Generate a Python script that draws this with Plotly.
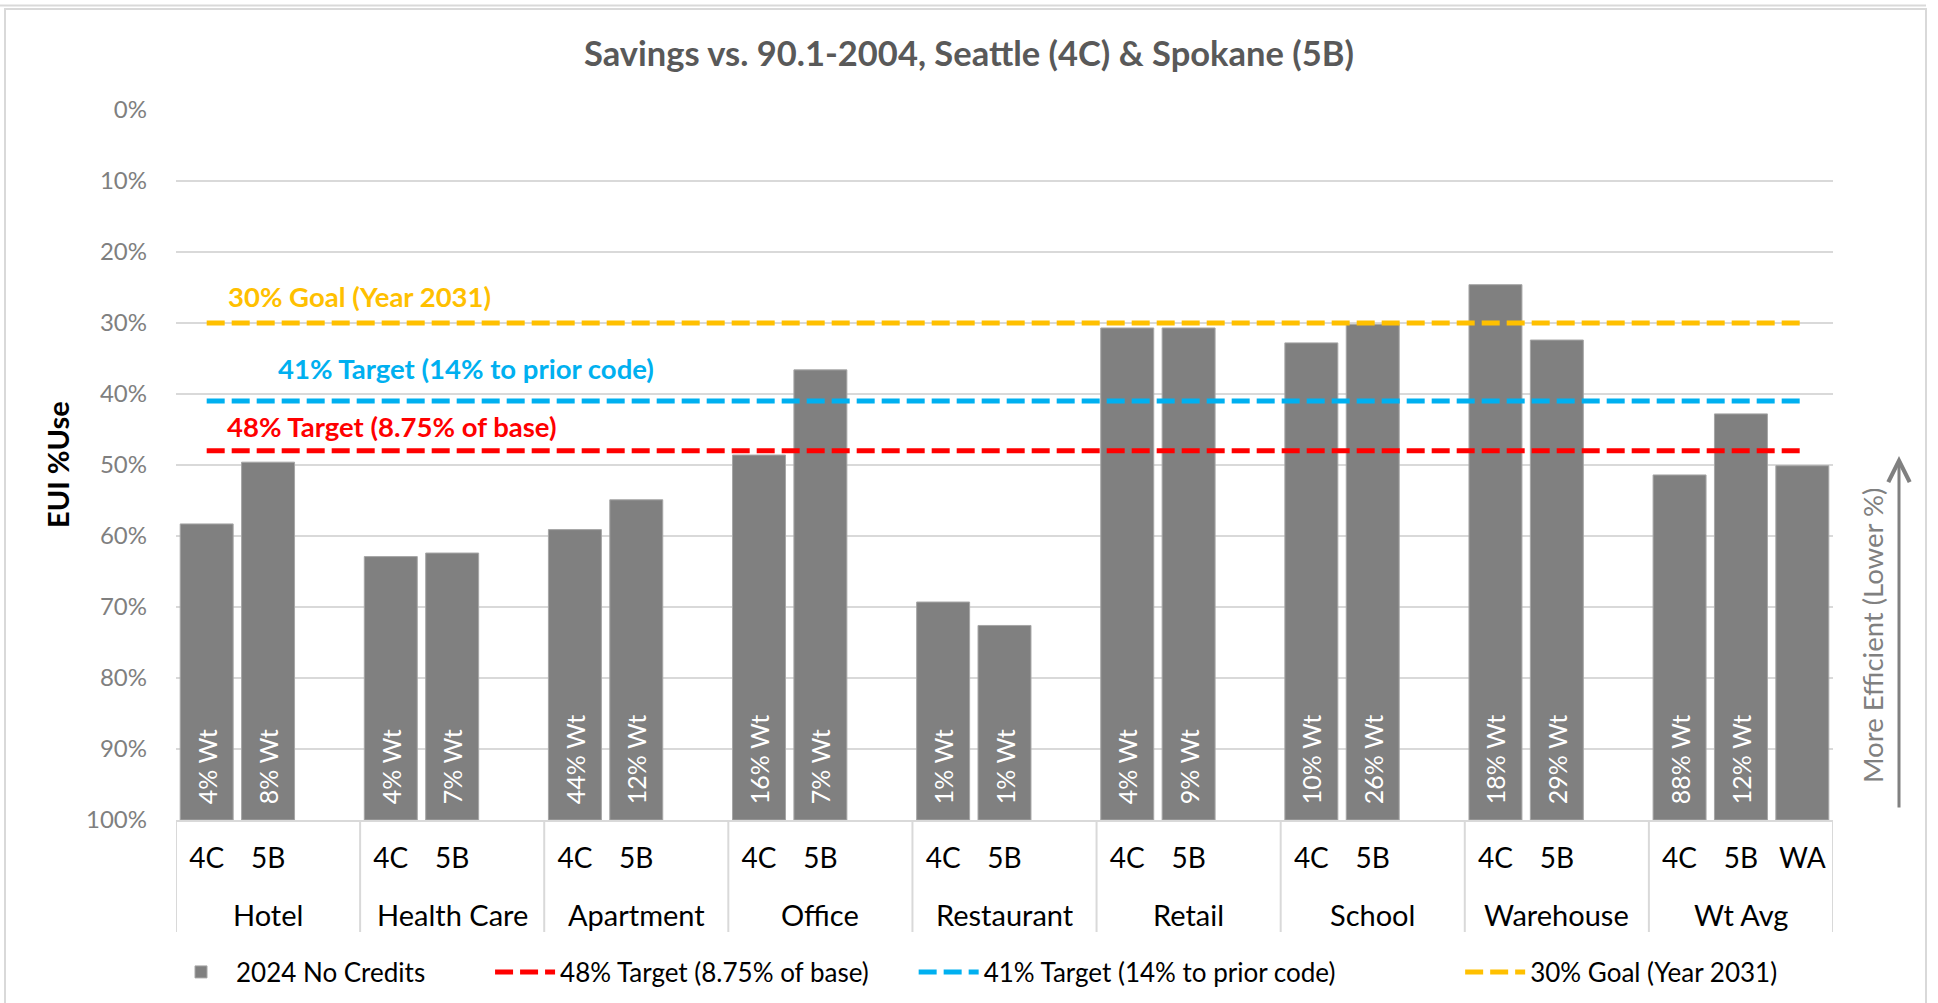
import plotly.graph_objects as go

# ---- data ----
groups = ["Hotel", "Health Care", "Apartment", "Office", "Restaurant",
          "Retail", "School", "Warehouse", "Wt Avg"]
sub_labels = {g: ["4C", "5B", " "] for g in groups}
sub_labels["Wt Avg"] = ["4C", "5B", "WA"]

eui_4c = [0.583, 0.629, 0.591, 0.486, 0.693, 0.307, 0.328, 0.246, 0.514]
eui_5b = [0.496, 0.624, 0.549, 0.366, 0.726, 0.307, 0.302, 0.324, 0.428]
eui_wa = 0.501
wt_4c = ["4% Wt", "4% Wt", "44% Wt", "16% Wt", "1% Wt", "4% Wt", "10% Wt", "18% Wt", "88% Wt"]
wt_5b = ["8% Wt", "7% Wt", "12% Wt", "7% Wt", "1% Wt", "9% Wt", "26% Wt", "29% Wt", "12% Wt"]

target_48 = 0.48
target_41 = 0.41
goal_30 = 0.30

bar_name = "2024 No Credits"
line_names = ["48% Target (8.75% of base)", "41% Target (14% to prior code)", "30% Goal (Year 2031)"]
line_values = [target_48, target_41, goal_30]
line_colors = ["#FF0000", "#00B0F0", "#FFC000"]
line_labels = ["48% Target (8.75% of base)", "41% Target (14% to prior code)", "30% Goal (Year 2031)"]

title_text = "Savings vs. 90.1-2004, Seattle (4C) & Spokane (5B)"
y_title = "EUI %Use"
side_note = "More Efficient (Lower %)"

# ---- build category structure ----
keys, ticktext, vals, texts = [], [], [], []
group_slots = []
for i, g in enumerate(groups):
    subs = sub_labels[g]
    third_val = eui_wa if g == "Wt Avg" else None
    start = len(keys)
    for s, v, t in zip(subs, [eui_4c[i], eui_5b[i], third_val],
                       [wt_4c[i], wt_5b[i], ""]):
        keys.append(g + "|" + s)
        ticktext.append(s)
        vals.append(v)
        texts.append(("\u00a0\u00a0" + t) if t else "")
    group_slots.append((start, len(keys)))

FONT = "Lato"
NB = "\u00a0"
legend_pads = [NB * 9, NB * 6, NB * 18, ""]
fig = go.Figure()

# bars grow from the 100% baseline (bottom of reversed axis) up to the value
fig.add_trace(go.Bar(
    x=keys,
    y=[(v - 1.0) if v is not None else None for v in vals],
    base=1.0,
    name=bar_name + legend_pads[0],
    marker=dict(color="#808080", line=dict(color="#A6A6A6", width=1)),
    text=texts,
    textposition="inside",
    insidetextanchor="start",
    textangle=-90,
    textfont=dict(color="white", size=25, family=FONT),
    constraintext="none",
    hoverinfo="skip",
))

for name, v, c, pad in zip(line_names, line_values, line_colors, legend_pads[1:]):
    fig.add_trace(go.Scatter(
        x=keys,
        y=[v] * len(keys),
        mode="lines",
        name=name + pad,
        line=dict(color=c, width=5, dash="18px,7px"),
        hoverinfo="skip",
    ))

# plot area geometry (px)
L, R, T, B = 176, 1833, 110, 820
W, H = 1938, 1003
pw, ph = R - L, B - T

def px_x(x):
    return (x - L) / pw

def px_y(y):
    return (B - y) / ph

annotations = []
label_specs = [(2, 226, 0.038), (1, 276, 0.046), (0, 225, 0.034)]
for idx, xpx, off in label_specs:
    annotations.append(dict(x=px_x(xpx), xref="paper", y=line_values[idx] - off, yref="y",
                            text="<b>" + line_labels[idx] + "</b>", showarrow=False,
                            xanchor="left", yanchor="middle",
                            font=dict(color=line_colors[idx], size=27.5, family=FONT)))
# group labels (second level of category axis)
for g, (s, e) in zip(groups, group_slots):
    annotations.append(dict(x=(s + e - 1) / 2, xref="x", y=px_y(914), yref="paper",
                            text=g, showarrow=False, xanchor="center", yanchor="middle",
                            font=dict(color="black", size=29, family=FONT)))
# y-axis title
annotations.append(dict(x=px_x(57), xref="paper", y=px_y(465), yref="paper",
                        text="<b>" + y_title + "</b>", showarrow=False, textangle=-90,
                        xanchor="center", yanchor="middle",
                        font=dict(color="black", size=29, family=FONT)))
# side note
annotations.append(dict(x=px_x(1872), xref="paper", y=px_y(635), yref="paper",
                        text=side_note, showarrow=False, textangle=-90,
                        xanchor="center", yanchor="middle",
                        font=dict(color="#808080", size=27.5, family=FONT)))
# arrow
annotations.append(dict(x=px_x(1899), xref="paper", y=px_y(456), yref="paper",
                        ax=0, ay=353, axref="pixel", ayref="pixel",
                        text="", showarrow=True, arrowhead=5, arrowsize=1.4,
                        arrowwidth=3, arrowcolor="#808080"))

shapes = [
    dict(type="rect", xref="paper", yref="paper",
         x0=px_x(5), x1=px_x(1926), y0=px_y(1010), y1=px_y(9),
         line=dict(color="#D9D9D9", width=2), layer="below"),
    dict(type="line", xref="paper", yref="paper",
         x0=px_x(0), x1=px_x(1926), y0=px_y(5.5), y1=px_y(5.5),
         line=dict(color="#D9D9D9", width=2), layer="below"),
]
# group dividers
bounds = [s for s, e in group_slots] + [group_slots[-1][1]]
for b in bounds:
    shapes.append(dict(type="line", xref="x", yref="paper",
                       x0=b - 0.5, x1=b - 0.5, y0=px_y(820), y1=px_y(932),
                       line=dict(color="#D9D9D9", width=2)))

fig.update_layout(
    width=W, height=H,
    margin=dict(l=L, r=W - R, t=T, b=H - B, pad=0, autoexpand=False),
    paper_bgcolor="white", plot_bgcolor="white",
    font=dict(family=FONT, color="black"),
    title=dict(text="<b>" + title_text + "</b>", x=0.5, xanchor="center",
               y=1 - 54 / H, yanchor="middle",
               font=dict(size=34.5, color="#595959", family=FONT)),
    bargap=0.137,
    showlegend=True,
    legend=dict(orientation="h", xref="container", yref="container",
                x=166 / W, xanchor="left",
                y=1 - 972 / H, yanchor="middle",
                font=dict(size=26, family=FONT, color="black"),
                itemwidth=60, traceorder="normal"),
    annotations=annotations,
    shapes=shapes,
)

fig.update_xaxes(
    type="category", categoryorder="array", categoryarray=keys,
    range=[-0.5, len(keys) - 0.5],
    tickmode="array", tickvals=keys, ticktext=ticktext,
    showline=True, linecolor="#D9D9D9", linewidth=2,
    showgrid=False, ticks="",
    tickfont=dict(size=28, family=FONT, color="black"),
    ticklabelstandoff=12,
    automargin=False,
)
fig.update_yaxes(
    range=[1, 0], dtick=0.1, tick0=0, tickformat=".0%",
    showgrid=True, gridcolor="#D9D9D9", gridwidth=2,
    zeroline=False, showline=False, ticks="",
    tickfont=dict(size=24, family=FONT, color="#7F7F7F"),
    ticklabelstandoff=28,
    automargin=False,
)

fig.write_html("out.html", config={"displayModeBar": False},
               post_script="document.body.style.margin='0';document.body.style.overflow='hidden';")
